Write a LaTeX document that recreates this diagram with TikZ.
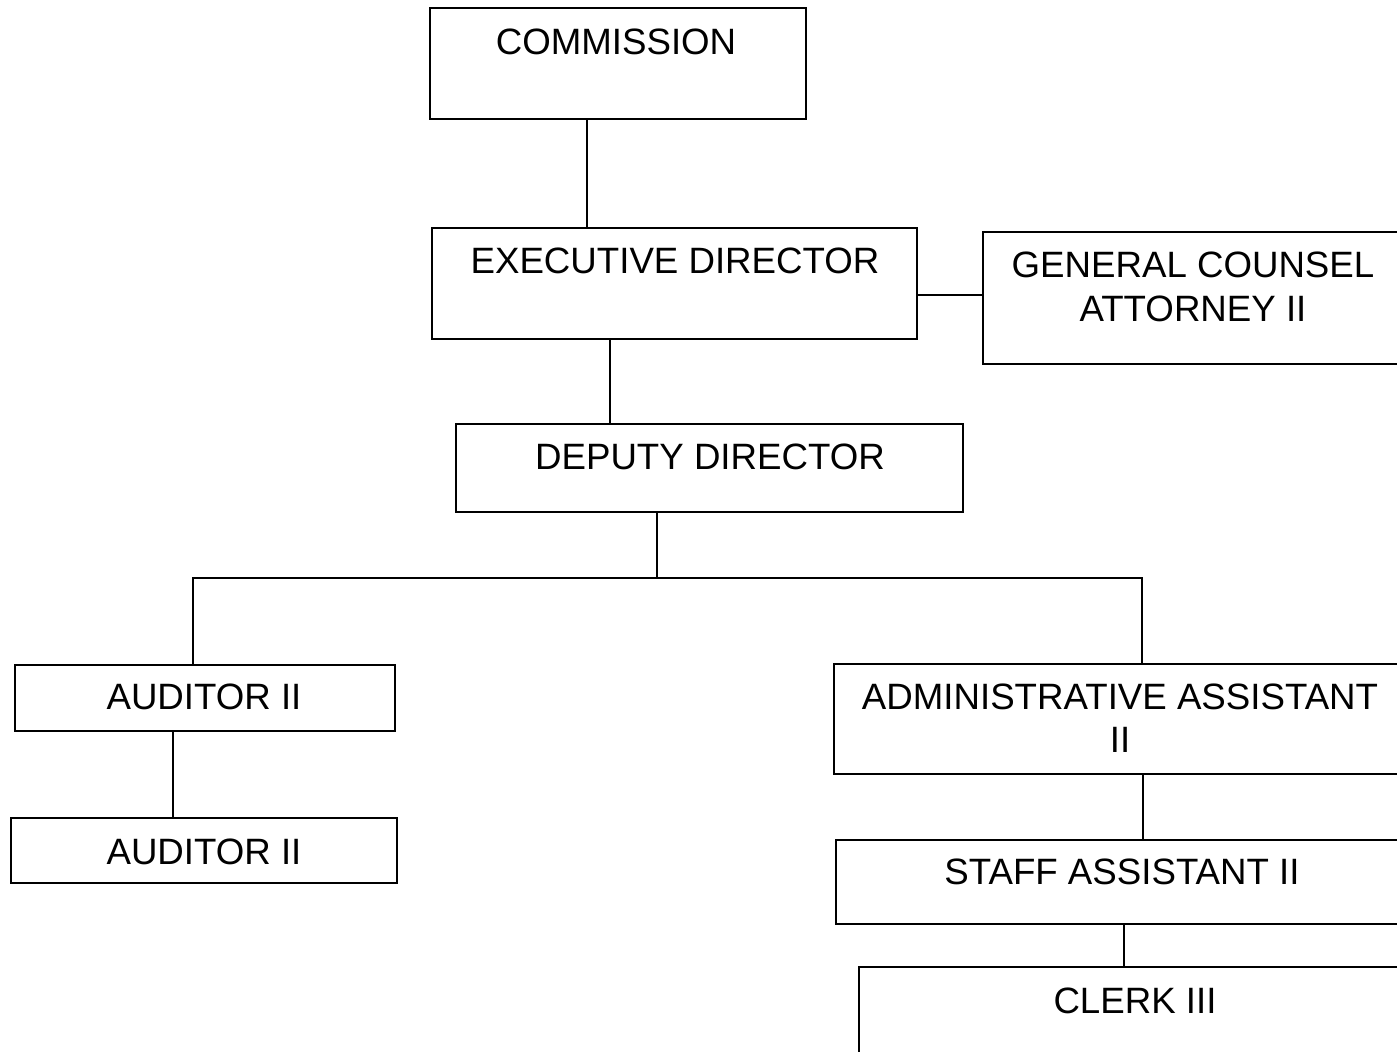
\documentclass[tikz,border=0pt]{standalone}
\usepackage{fontspec}
\setmainfont{Liberation Sans}
\usetikzlibrary{fit}

\tikzset{every picture/.style={line width=2pt}}
\tikzset{
  box/.style={draw, rectangle, inner sep=0pt},
  lbl/.style={font=\fontsize{27.5}{32.5}\selectfont, align=center, inner sep=0pt},
}

\begin{document}
\begin{tikzpicture}[x=0.75pt,y=0.75pt,yscale=-1,xscale=1]
	\useasboundingbox (0,0) rectangle (1397,1052);
	\clip (0,0) rectangle (1397,1052);

	% boxes
	\node[box, fit={(430,8) (806,119)}] (comm) {};
	\node[box, fit={(432,228) (917,339)}] (exec) {};
	\node[box, fit={(983,232) (1420,364)}] (gc) {};
	\node[box, fit={(456,424) (963,512)}] (dep) {};
	\node[box, fit={(15,665) (395,731)}] (aud1) {};
	\node[box, fit={(11,818) (397,883)}] (aud2) {};
	\node[box, fit={(834,664) (1420,774)}] (adm) {};
	\node[box, fit={(836,840) (1420,924)}] (staff) {};
	\node[box, fit={(859,967) (1420,1070)}] (clerk) {};

	% Text Node
	\node[lbl] (comm-t) at (616,42) {COMMISSION};
	\node[lbl] (exec-t) at (675,261) {EXECUTIVE DIRECTOR};
	\node[lbl] (gc-t) at (1193,287) {GENERAL COUNSEL\\ATTORNEY II};
	\node[lbl] (dep-t) at (710,457) {DEPUTY DIRECTOR};
	\node[lbl] (aud1-t) at (204,697) {AUDITOR II};
	\node[lbl] (aud2-t) at (204,852) {AUDITOR II};
	\node[lbl] (adm-t) at (1120,718) {ADMINISTRATIVE ASSISTANT\\II};
	\node[lbl] (staff-t) at (1122,872) {STAFF ASSISTANT II};
	\node[lbl] (clerk-t) at (1135,1001) {CLERK III};

	% link points
	\coordinate (l-comm) at (587,0);
	\coordinate (l-gc) at (950,295);
	\coordinate (l-dep) at (610,0);
	\coordinate (bus) at (657,578);
	\coordinate (busL) at (193,578);
	\coordinate (busR) at (1142,578);
	\coordinate (l-aud) at (173,0);
	\coordinate (l-adm) at (1143,0);
	\coordinate (l-staff) at (1124,0);

	% Straight Lines
	\draw (comm.south -| l-comm) -- (exec.north -| l-comm);
	\draw (exec.east |- l-gc) -- (gc.west |- l-gc);
	\draw (exec.south -| l-dep) -- (dep.north -| l-dep);
	\draw (dep.south -| bus) -- (bus);
	\draw (aud1.north -| busL) -- (busL) -- (busR) -- (adm.north -| busR);
	\draw (aud1.south -| l-aud) -- (aud2.north -| l-aud);
	\draw (adm.south -| l-adm) -- (staff.north -| l-adm);
	\draw (staff.south -| l-staff) -- (clerk.north -| l-staff);
\end{tikzpicture}
\end{document}
